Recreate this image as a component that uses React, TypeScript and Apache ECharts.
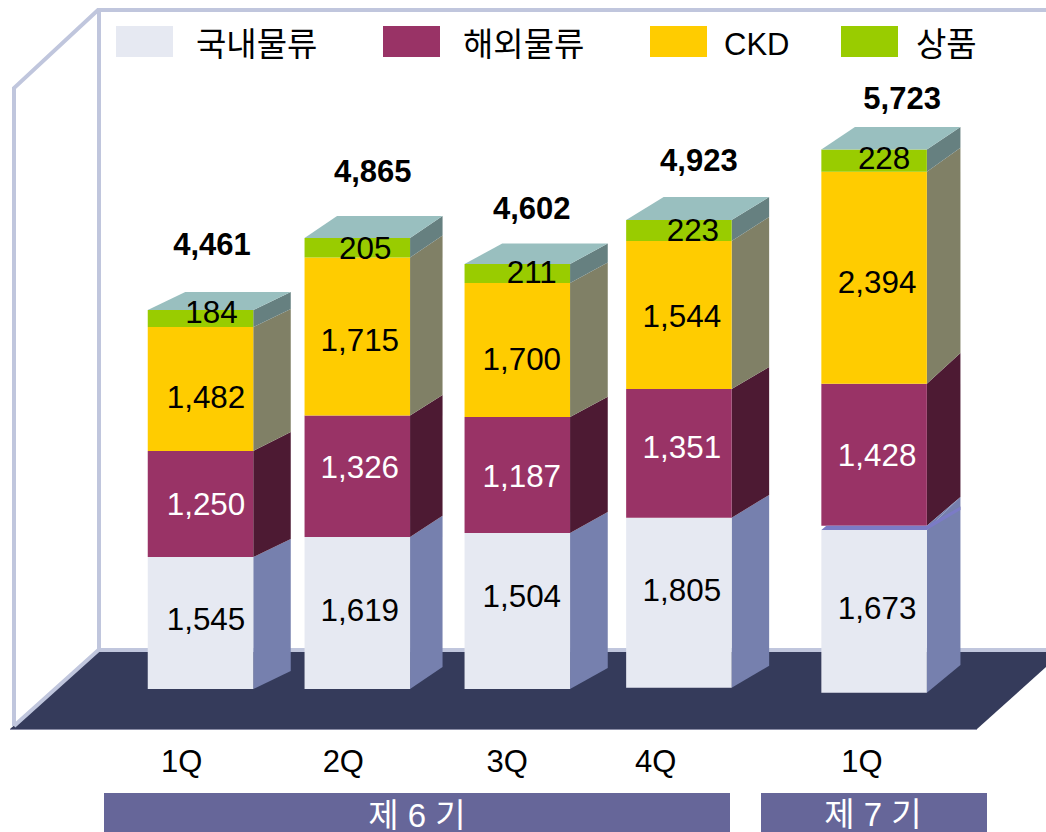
import React, { useEffect, useRef } from "react";
import * as echarts from "echarts";

// Printed values
const domesticLabels = [1545, 1619, 1504, 1805, 1673];
const overseasLabels = [1250, 1326, 1187, 1351, 1428];
const ckdLabels = [1482, 1715, 1700, 1544, 2394];
const goodsLabels = [184, 205, 211, 223, 228];
const totals = [4461, 4865, 4602, 4923, 5723];
const quarterNames = ["1Q", "2Q", "3Q", "4Q", "1Q"];

// The drawing is not to scale with its printed values, so the drawn height of each
// block is read from the picture separately (axis units: 10 per pixel).
const floorLift = [560, 560, 560, 573, 523];
const domesticDrawn = [1320, 1520, 1560, 1700, 1627];
const seamDrawn = [0, 0, 0, 0, 43];
const overseasDrawn = [1060, 1215, 1160, 1287, 1420];
const ckdDrawn = [1240, 1580, 1340, 1480, 2120];
const goodsDrawn = [170, 195, 190, 210, 222];

// Horizontal places on the x axis (160px per unit)
const barSlots = [0, 0.98, 1.98, 2.99, 4.21];
const quarterLabelSlots = [-0.1175, 0.8925, 1.916, 2.845, 4.1344];

const FONT = '"Liberation Sans", "Noto Sans CJK KR", sans-serif';
const BAR_WIDTH = 105.5 / 160;
const depthX = [37.5, 32.5, 37.7, 37.5, 33.6];
const labelShiftX = [5.5, 2.5, 4.5, 3, 3];
const goodsShiftX = [11, 8, 14.5, 14, 10];
const totalShiftX = [11.5, 15.5, 14.5, 20, 28];
const totalRise = [66, 67, 56, 60, 51];

// How far the far edge of each block's side face rises, in pixels
const riseFloor = [18, 22, 21, 22, 27.7];
const riseDomesticTop = [18, 21.3, 21, 22.7, 33];
const riseOverseasBottom = [18, 21.3, 21, 22.7, 28.7];
const riseOverseasTop = [19, 20.5, 20.3, 22, 30.7];
const riseCkdTop = [18, 22, 20.5, 24, 24];
const riseGoodsTop = [18, 22, 20.5, 23, 22.5];

const sum = (arrs: number[][], i: number) => arrs.reduce((s, a) => s + a[i], 0);
const fmt = (n: number) => n.toLocaleString("en-US");

function segment(
  name: string,
  drawn: number[],
  below: number[][],
  labels: number[],
  front: string,
  side: string,
  textColor: string,
  shiftY: number[],
  shiftX: number[],
  riseBot: number[],
  riseTop: number[],
  withTop: boolean
) {
  return {
    type: "custom",
    name,
    z: 3,
    clip: false,
    encode: { x: 0, y: [1, 2] },
    itemStyle: { color: front },
    data: drawn.map((h, i) => {
      const base = sum(below, i);
      return [barSlots[i], base, base + h, labels[i], i];
    }),
    renderItem: (_p: any, api: any) => {
      const i = api.value(4);
      const dx = depthX[i];
      const w = api.size([BAR_WIDTH, 0])[0];
      const [cx, yBot] = api.coord([api.value(0), api.value(1)]);
      const [, yTop] = api.coord([api.value(0), api.value(2)]);
      const xL = cx - w / 2;
      const xR = cx + w / 2;
      const poly = (points: number[][], fill: string) => ({
        type: "polygon",
        shape: { points },
        style: { fill },
      });
      const children: any[] = [];
      children.push(
        poly([[xR, yTop], [xR + dx, yTop - riseTop[i]], [xR + dx, yBot - riseBot[i]], [xR, yBot]], side)
      );
      children.push(poly([[xL, yTop], [xR, yTop], [xR, yBot], [xL, yBot]], front));
      if (withTop) {
        children.push(
          poly([[xL, yTop], [xR, yTop], [xR + dx, yTop - riseTop[i]], [xL + dx, yTop - riseTop[i]]], "#99bfbf")
        );
      }
      children.push({
        type: "text",
        z2: 10,
        style: {
          x: cx + shiftX[i],
          y: (yTop + yBot) / 2 + shiftY[i],
          text: fmt(api.value(3)),
          fill: textColor,
          fontSize: 31.4,
          fontFamily: FONT,
          align: "center",
          verticalAlign: "middle",
        },
      });
      return { type: "group", children };
    },
  };
}

const App = () => {
  const ref = useRef<HTMLDivElement>(null);
  useEffect(() => {
    const chart = echarts.init(ref.current!, null, { renderer: "svg" });
    const seriesNames = ["국내물류", "해외물류", "CKD", "상품"];
    const legendPlaces = [
      { left: 116, pad: 18, size: 33 },
      { left: 383, pad: 18, size: 33 },
      { left: 650, pad: 12, size: 31 },
      { left: 841, pad: 13, size: 33 },
    ];
    const wall = "#c0c6dd";
    chart.setOption({
      animation: false,
      backgroundColor: "#ffffff",
      grid: { left: 0, right: 0, top: 0, height: 745 },
      xAxis: {
        type: "value",
        min: -200.5 / 160,
        max: 845.5 / 160,
        splitLine: { show: false },
        axisLine: { show: false },
        axisTick: { show: false },
        axisLabel: {
          customValues: quarterLabelSlots,
          formatter: (v: number) => quarterNames[quarterLabelSlots.indexOf(v)] ?? "",
          color: "#000",
          fontSize: 31,
          fontFamily: FONT,
          margin: 1,
        },
      },
      yAxis: { type: "value", min: 0, max: 7450, show: false },
      legend: seriesNames.map((name, i) => ({
        data: [name],
        left: legendPlaces[i].left,
        top: 26,
        padding: 0,
        // The swatch sits a little above its text: the icon's box runs 6px past the rect.
        icon: "path://M0 0H57V31H0ZM0 37H0.01V37H0Z",
        itemWidth: 57,
        itemHeight: 37,
        selectedMode: false,
        textStyle: {
          fontSize: legendPlaces[i].size,
          fontFamily: FONT,
          color: "#000",
          lineHeight: 31,
          padding: [0, 0, 0, legendPlaces[i].pad],
        },
      })),
      graphic: [
        {
          type: "polygon",
          shape: { points: [[98, 652], [1046, 652], [1046, 667], [977, 729], [10, 729]] },
          style: { fill: "#353b5b" },
        },
        { type: "line", shape: { x1: 10, y1: 729.5, x2: 977, y2: 729.5 }, style: { stroke: "#8a8ca6", lineWidth: 1 } },
        {
          type: "polyline",
          shape: { points: [[14, 726], [14, 88], [98, 10], [1046, 10]] },
          style: { stroke: wall, lineWidth: 4, fill: "none" },
        },
        {
          type: "polyline",
          shape: { points: [[14, 726], [98.5, 650], [1046, 650]] },
          style: { stroke: wall, lineWidth: 4, fill: "none" },
        },
        { type: "line", shape: { x1: 99, y1: 10, x2: 99, y2: 650 }, style: { stroke: wall, lineWidth: 4 } },
        { type: "rect", shape: { x: 104, y: 793, width: 626, height: 39 }, style: { fill: "#666699" } },
        { type: "rect", shape: { x: 761, y: 793, width: 226, height: 39 }, style: { fill: "#666699" } },
        {
          type: "text",
          style: {
            x: 417, y: 815, text: "제 6 기", fill: "#fff", fontSize: 33, fontFamily: FONT,
            align: "center", verticalAlign: "middle",
          },
        },
        {
          type: "text",
          style: {
            x: 873, y: 814, text: "제 7 기", fill: "#fff", fontSize: 33, fontFamily: FONT,
            align: "center", verticalAlign: "middle",
          },
        },
      ],
      series: [
        segment(seriesNames[0], domesticDrawn, [floorLift], domesticLabels, "#e6e9f2", "#7680ae", "#000",
          [-4, -3, -15, -12.5, -3], labelShiftX, riseFloor, riseDomesticTop, false),
        segment(seriesNames[1], overseasDrawn, [floorLift, domesticDrawn, seamDrawn], overseasLabels, "#993366", "#4d1a33", "#fff",
          [0, -9, 1, -6, 0.5], labelShiftX, riseOverseasBottom, riseOverseasTop, false),
        segment(seriesNames[2], ckdDrawn, [floorLift, domesticDrawn, seamDrawn, overseasDrawn], ckdLabels, "#ffcc00", "#808066", "#000",
          [8, 3.5, 9, 1, 4.5], labelShiftX, riseOverseasTop, riseCkdTop, false),
        segment(seriesNames[3], goodsDrawn, [floorLift, domesticDrawn, seamDrawn, overseasDrawn, ckdDrawn], goodsLabels, "#99cc00", "#668080", "#000",
          [-6.5, 0.5, -1.5, 0, -2.5], goodsShiftX, riseCkdTop, riseGoodsTop, true),
        {
          type: "custom",
          name: "합계",
          z: 4,
          clip: false,
          encode: { x: 0, y: 1 },
          data: totals.map((t, i) => [
            barSlots[i],
            sum([floorLift, domesticDrawn, seamDrawn, overseasDrawn, ckdDrawn, goodsDrawn], i),
            t,
            i,
          ]),
          renderItem: (_p: any, api: any) => {
            const i = api.value(3);
            const [cx, y] = api.coord([api.value(0), api.value(1)]);
            return {
              type: "text",
              style: {
                x: cx + totalShiftX[i],
                y: y - totalRise[i],
                text: fmt(api.value(2)),
                fill: "#000",
                fontSize: 31,
                fontWeight: "bold",
                fontFamily: FONT,
                align: "center",
                verticalAlign: "middle",
              },
            };
          },
        },
        {
          type: "custom",
          name: "seam",
          z: 3,
          clip: false,
          encode: { x: 0, y: [1, 2] },
          data: seamDrawn
            .map((g, i) => [barSlots[i], floorLift[i] + domesticDrawn[i], g, i])
            .filter((d) => d[2] > 0),
          renderItem: (_p: any, api: any) => {
            const i = api.value(3);
            const w = api.size([BAR_WIDTH, 0])[0];
            const gap = api.size([0, api.value(2)])[1];
            const [cx, y] = api.coord([api.value(0), api.value(1)]);
            const xL = cx - w / 2;
            const xR = cx + w / 2;
            const dx = depthX[i];
            return {
              type: "group",
              children: [
                {
                  type: "polygon",
                  shape: { points: [[xR, y], [xR + dx, y - riseDomesticTop[i]], [xR, y - gap]] },
                  style: { fill: "#7680ae" },
                },
                {
                  type: "polygon",
                  shape: {
                    points: [
                      [xR, y],
                      [xR + dx, y - 20],
                      [xR + dx, y - 23.5],
                      [xR, y - gap],
                      [xL + 5, y - gap],
                      [xL, y],
                    ],
                  },
                  style: { fill: "#7b7bc6" },
                },
              ],
            };
          },
        },
      ],
    });
    return () => chart.dispose();
  }, []);
  return <div ref={ref} style={{ position: "absolute", left: 0, top: 0, width: 1046, height: 832 }} />;
};

export default App;
